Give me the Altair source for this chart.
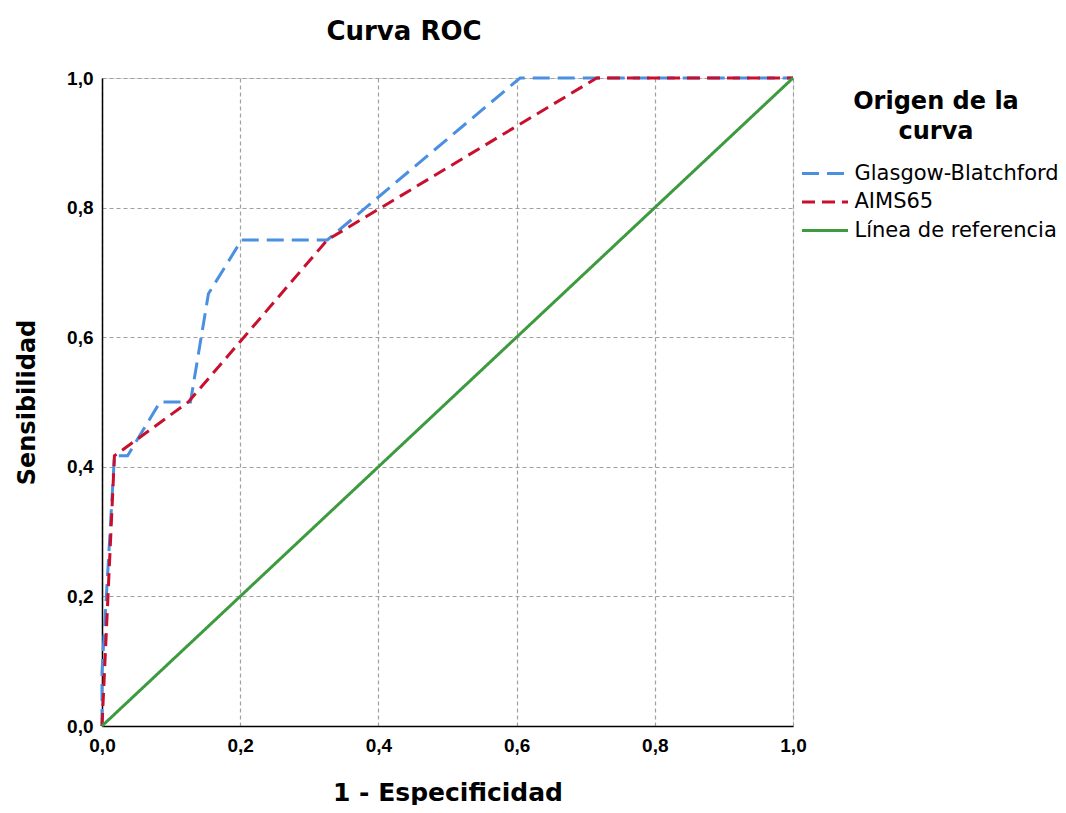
import altair as alt
import pandas as pd

# Series names
series = ["Glasgow-Blatchford", "AIMS65", "Línea de referencia"]
colors = ["#4A8FE0", "#C8102E", "#3E9A3E"]

# Glasgow-Blatchford ROC points
gb_x = [0.0, 0.0, 0.018, 0.037, 0.084, 0.128, 0.154, 0.202, 0.326, 0.605, 1.0]
gb_y = [0.0, 0.083, 0.417, 0.417, 0.5, 0.5, 0.667, 0.75, 0.75, 1.0, 1.0]

# AIMS65 ROC points
aims_x = [0.0, 0.018, 0.125, 0.326, 0.716, 1.0]
aims_y = [0.0, 0.417, 0.5, 0.75, 1.0, 1.0]

# Reference line
ref_x = [0.0, 1.0]
ref_y = [0.0, 1.0]

tick_values = [0.0, 0.2, 0.4, 0.6, 0.8, 1.0]

rows = []
for name, xs, ys in zip(series, [gb_x, aims_x, ref_x], [gb_y, aims_y, ref_y]):
    for i, (a, b) in enumerate(zip(xs, ys)):
        rows.append({"serie": name, "x": a, "y": b, "i": i})
df = pd.DataFrame(rows)

color_scale = alt.Scale(domain=series, range=colors)
dash_scale = alt.Scale(domain=series, range=[[17, 8], [13, 7], [1, 0]])
width_scale = alt.Scale(domain=series, range=[3, 3, 1.2])

label_expr = "replace(format(datum.value, '.1f'), '.', ',')"

x_enc = alt.X(
    "x:Q",
    scale=alt.Scale(domain=[0, 1], nice=False),
    axis=alt.Axis(
        values=tick_values,
        labelExpr=label_expr,
        labelFlush=False,
        title="1 - Especificidad",
        titleY=74,
        titleBaseline="alphabetic",
    ),
)
y_enc = alt.Y(
    "y:Q",
    scale=alt.Scale(domain=[0, 1], nice=False),
    axis=alt.Axis(
        values=tick_values,
        labelExpr=label_expr,
        labelFlush=False,
        title="Sensibilidad",
        titleX=-68,
        titleBaseline="alphabetic",
        titleFontSize=24,
    ),
)


def layer(name):
    return (
        alt.Chart(df)
        .transform_filter(alt.datum.serie == name)
        .mark_line(strokeCap="butt")
        .encode(
            x=x_enc,
            y=y_enc,
            order=alt.Order("i:Q"),
            color=alt.Color(
                "serie:N",
                scale=color_scale,
                sort=series,
                legend=alt.Legend(
                    title=["Origen de la", "curva"],
                    orient="none",
                    legendX=711,
                    legendY=12,
                ),
            ),
            strokeDash=alt.StrokeDash("serie:N", scale=dash_scale, sort=series),
            strokeWidth=alt.StrokeWidth("serie:N", scale=width_scale, legend=None),
        )
    )


chart = (
    alt.layer(layer(series[0]), layer(series[1]), layer(series[2]))
    .properties(
        width=691,
        height=648,
        autosize=alt.AutoSizeParams(type="none"),
        padding={"left": 94, "top": 70, "right": 265, "bottom": 79},
        title=alt.TitleParams(
            text="Curva ROC",
            anchor="start",
            align="center",
            dx=389,
            font="DejaVu Sans",
            fontSize=26,
            fontWeight="bold",
            color="black",
            baseline="alphabetic",
            offset=3,
        ),
    )
    .configure_view(stroke=None)
    .configure(background="white")
    .configure_axis(
        grid=True,
        gridColor="#a0a0a0",
        gridDash=[4, 3],
        gridWidth=1.2,
        domainColor="black",
        domainWidth=1.5,
        ticks=False,
        labelFont="Liberation Sans",
        labelFontSize=19,
        labelFontWeight="bold",
        labelColor="black",
        labelPadding=9,
        titleFont="DejaVu Sans",
        titleFontSize=25,
        titleFontWeight="bold",
        titleColor="black",
    )
    .configure_axisX(labelPadding=10)
    .configure_legend(
        titleFont="DejaVu Sans",
        titleFontSize=24,
        titleFontWeight="bold",
        titleColor="black",
        titleAlign="center",
        titleAnchor="middle",
        titleLineHeight=30,
        titlePadding=17.5,
        labelFont="DejaVu Sans",
        labelFontSize=21,
        labelColor="black",
        labelOffset=17.5,
        labelLimit=400,
        symbolType="M-2.19,0H2.19",
        symbolSize=441,
        symbolStrokeWidth=3,
        rowPadding=6.5,
        padding=0,
    )
)

chart.save("out.html", embed_options={"renderer": "svg", "actions": False})
